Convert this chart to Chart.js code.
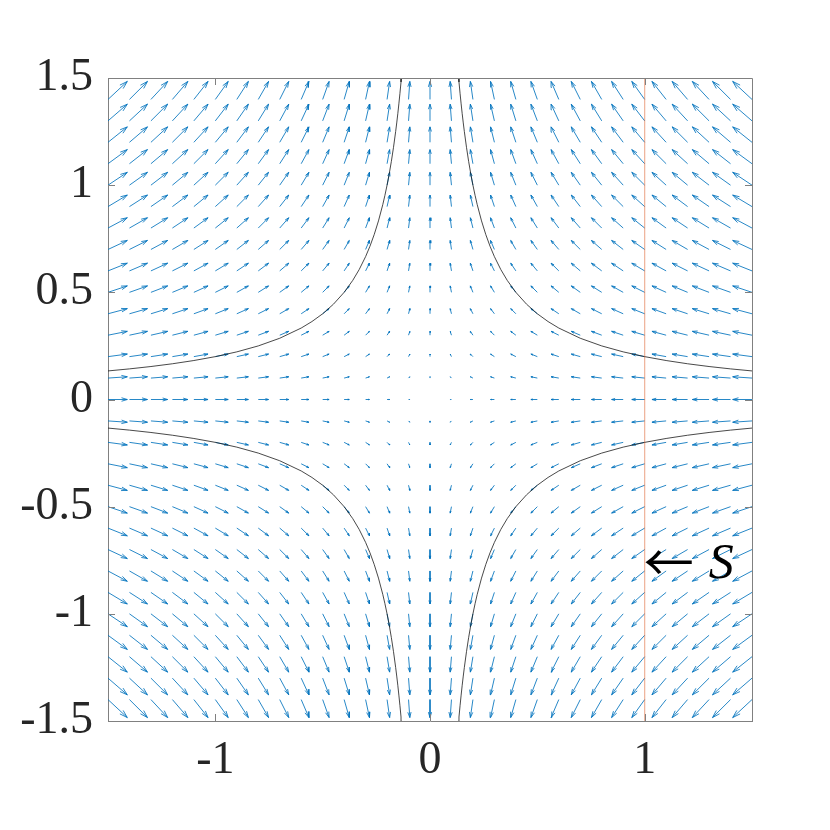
<!DOCTYPE html>
<html>
<head>
<meta charset="utf-8">
<script src="https://cdn.jsdelivr.net/npm/chart.js@4.4.1/dist/chart.umd.min.js"></script>
<style>
  html, body { margin: 0; padding: 0; background: #fff; }
  #wrap { width: 830px; height: 830px; }
</style>
</head>
<body>
<div id="wrap"><canvas id="myChart" width="830" height="830"></canvas></div>
<script>
// grid of arrow tails (x and y), step 0.1
const gridX = [-1.5, -1.4, -1.3, -1.2, -1.1, -1.0, -0.9, -0.8, -0.7, -0.6, -0.5, -0.4, -0.3, -0.2, -0.1, 0,
  0.1, 0.2, 0.3, 0.4, 0.5, 0.6, 0.7, 0.8, 0.9, 1.0, 1.1, 1.2, 1.3, 1.4, 1.5];
const gridY = [-1.5, -1.4, -1.3, -1.2, -1.1, -1.0, -0.9, -0.8, -0.7, -0.6, -0.5, -0.4, -0.3, -0.2, -0.1, 0,
  0.1, 0.2, 0.3, 0.4, 0.5, 0.6, 0.7, 0.8, 0.9, 1.0, 1.1, 1.2, 1.3, 1.4, 1.5];

// saddle flow: u = -x, v = y
const fieldU = (x, y) => -x;
const fieldV = (x, y) => y;

// streamlines x*y = +-curveC
const curveC = 0.2;
const curveX = [0.1333, 0.135, 0.14, 0.145, 0.15, 0.155, 0.16, 0.17, 0.18, 0.19, 0.2, 0.21, 0.22, 0.24,
  0.26, 0.28, 0.3, 0.33, 0.36, 0.4, 0.45, 0.5, 0.55, 0.6, 0.7, 0.8, 0.9, 1.0, 1.1, 1.2, 1.3, 1.4, 1.5];

// section line
const sectionX = 1;
const sectionLabel = "S";
const sectionLabelY = -0.76;

const xTicks = [-1, 0, 1];
const yTicks = [-1.5, -1, -0.5, 0, 0.5, 1, 1.5];

const blue = "#0072BD";
const axisGray = "#808080";
const textColor = "#262626";
const tickFont = { family: "'Liberation Serif', serif", size: 46 };

// build arrows as broken line segments (matlab quiver style)
function buildArrows() {
  let maxLen = 0;
  gridX.forEach((x) => {
    gridY.forEach((y) => {
      let l = Math.hypot(fieldU(x, y), fieldV(x, y));
      if (l > maxLen) maxLen = l;
    });
  });
  const scale = (0.9 * Math.hypot(0.1, 0.1)) / maxLen;
  const alpha = 0.3;
  const beta = 0.3;
  let pts = [];
  gridX.forEach((x) => {
    gridY.forEach((y) => {
      let u = fieldU(x, y) * scale;
      let v = fieldV(x, y) * scale;
      if (u === 0 && v === 0) return;
      let tx = x + u;
      let ty = y + v;
      pts.push({ x: x, y: y });
      pts.push({ x: tx, y: ty });
      pts.push({ x: tx, y: null });
      pts.push({ x: tx - alpha * (u + beta * v), y: ty - alpha * (v - beta * u) });
      pts.push({ x: tx, y: ty });
      pts.push({ x: tx - alpha * (u - beta * v), y: ty - alpha * (v + beta * u) });
      pts.push({ x: tx, y: null });
    });
  });
  return pts;
}

function branch(sx, sy) {
  return curveX.map((x) => ({ x: sx * x, y: (sy * curveC) / x }));
}

function curveSet(data) {
  return {
    data: data,
    showLine: true,
    borderColor: "#1a1a1a",
    borderWidth: 0.8,
    pointRadius: 0,
    clip: 0,
    order: 2,
  };
}

const frame = {
  id: "frame",
  afterDraw(chart) {
    const { ctx, chartArea: a, scales } = chart;
    ctx.save();
    ctx.strokeStyle = axisGray;
    ctx.lineWidth = 1;
    ctx.beginPath();
    ctx.moveTo(a.left, a.top + 0.5);
    ctx.lineTo(a.right + 0.5, a.top + 0.5);
    ctx.lineTo(a.right + 0.5, a.bottom);
    // inward ticks
    const tl = 7;
    xTicks.forEach((t) => {
      let px = Math.round(scales.x.getPixelForValue(t)) + 0.5;
      ctx.moveTo(px, a.bottom);
      ctx.lineTo(px, a.bottom - tl);
      ctx.moveTo(px, a.top);
      ctx.lineTo(px, a.top + tl);
    });
    yTicks.forEach((t) => {
      let py = Math.round(scales.y.getPixelForValue(t)) + 0.5;
      ctx.moveTo(a.left, py);
      ctx.lineTo(a.left + tl, py);
      ctx.moveTo(a.right, py);
      ctx.lineTo(a.right - tl, py);
    });
    ctx.stroke();

    // "<- S" label
    let px = scales.x.getPixelForValue(sectionX);
    let py = scales.y.getPixelForValue(sectionLabelY);
    ctx.fillStyle = "#000";
    ctx.textBaseline = "middle";
    ctx.textAlign = "left";
    ctx.font = "50px 'Noto Sans CJK JP'";
    ctx.fillText("\u2190", px - 1, py);
    ctx.font = "italic 50px 'Liberation Serif'";
    ctx.fillText(sectionLabel, px + 64, py + 2);
    ctx.restore();
  },
};

new Chart(document.getElementById("myChart"), {
  type: "scatter",
  data: {
    datasets: [
      {
        data: [
          { x: sectionX, y: -1.5 },
          { x: sectionX, y: 1.5 },
        ],
        showLine: true,
        borderColor: "rgba(217, 83, 25, 0.45)",
        borderWidth: 1.2,
        pointRadius: 0,
        clip: 0,
        order: 1,
      },
      curveSet(branch(1, 1)),
      curveSet(branch(-1, -1)),
      curveSet(branch(1, -1)),
      curveSet(branch(-1, 1)),
      {
        data: buildArrows(),
        showLine: true,
        spanGaps: false,
        borderColor: blue,
        borderWidth: 0.85,
        pointRadius: 0,
        clip: 0,
        order: 3,
      },
    ],
  },
  plugins: [frame],
  options: {
    responsive: false,
    animation: false,
    layout: { padding: { left: 0, right: 78, top: 78, bottom: 0 } },
    plugins: { legend: { display: false }, tooltip: { enabled: false } },
    scales: {
      x: {
        type: "linear",
        min: -1.5,
        max: 1.5,
        afterBuildTicks: (s) => {
          s.ticks = xTicks.map((v) => ({ value: v }));
        },
        afterFit: (s) => {
          s.height = 109;
        },
        grid: { display: false, drawTicks: false },
        border: { display: true, color: axisGray, width: 1 },
        ticks: { font: tickFont, color: textColor, padding: 12, maxRotation: 0, callback: (v) => String(v) },
      },
      y: {
        type: "linear",
        min: -1.5,
        max: 1.5,
        afterBuildTicks: (s) => {
          s.ticks = yTicks.map((v) => ({ value: v }));
        },
        afterFit: (s) => {
          s.width = 108;
        },
        grid: { display: false, drawTicks: false },
        border: { display: true, color: axisGray, width: 1 },
        ticks: { font: tickFont, color: textColor, padding: 15, callback: (v) => String(v) },
      },
    },
  },
});
</script>
</body>
</html>
